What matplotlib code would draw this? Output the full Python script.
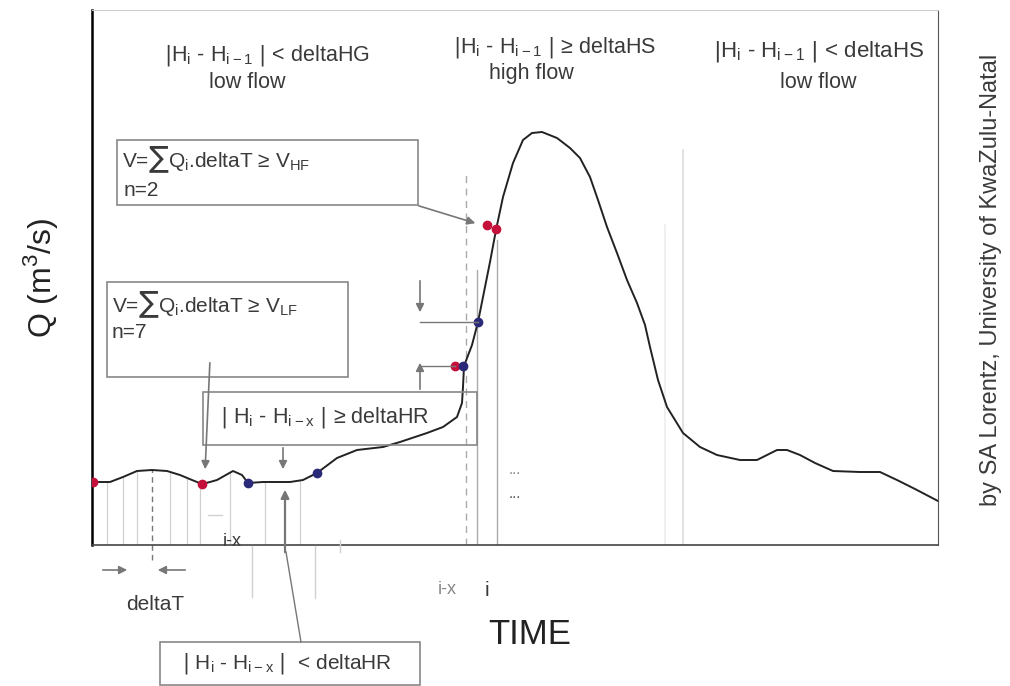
import matplotlib.pyplot as plt
import numpy as np

plt.rcParams["font.family"] = ["Liberation Sans", "DejaVu Sans"]

# hydrograph, arbitrary units (time 0-846, Q 0-535)
time = [1, 18, 31, 45, 60, 75, 88, 100, 110, 118, 125, 141, 150, 156, 171,
        198, 211, 225, 245, 265, 291, 308, 335, 351, 365, 370, 371, 372, 380,
        386, 393, 398, 404, 411, 421, 431, 440, 450, 465, 478, 488, 498, 506,
        515, 525, 535, 545, 553, 558, 566, 575, 591, 608, 625, 648, 665, 675,
        685, 695, 708, 723, 741, 768, 788, 805, 823, 846]
flow = [63, 63, 68, 74, 75, 74, 70, 65, 61, 63, 65, 74, 70, 62, 63,
        63, 65, 72, 87, 95, 98, 103, 112, 118, 128, 142, 158, 179, 200,
        223, 258, 283, 315, 348, 382, 405, 412, 413, 407, 397, 387, 368, 345,
        318, 292, 265, 242, 220, 198, 165, 138, 112, 98, 90, 85, 85, 90,
        95, 95, 90, 82, 74, 73, 73, 65, 56, 44]

red_t = [1, 110, 363, 395, 404]
red_q = [63, 61, 179, 320, 316]
blue_t = [156, 225, 371, 386]
blue_q = [62, 72, 179, 223]

step_t = [15, 31, 45, 78, 95, 108, 138, 173, 208]

W, H = 1010, 686
fig = plt.figure(figsize=(W / 100, H / 100), dpi=100)
ax = fig.add_axes([92 / W, (H - 545) / H, (938 - 92) / W, (545 - 10) / H])
ax.set_xlim(0, 846)
ax.set_ylim(0, 535)
ax.set_xticks([])
ax.set_yticks([])
ax.spines["left"].set_linewidth(1.8)
ax.spines["bottom"].set_linewidth(1.2)
ax.spines["bottom"].set_color("#444444")
ax.spines["top"].set_color("#cccccc")
ax.spines["right"].set_color("#555555")

light = "#d0d0d0"
grey = "#777777"
txt = "#3a3a3a"

# time-step lines under the curve
for t in step_t:
    ax.plot([t, t], [0, np.interp(t, time, flow)], color=light, lw=0.9)
ax.plot([60, 60], [-15, 75], color=grey, lw=1, ls=(0, (4, 3)), clip_on=False)

# lines around the rising limb
ax.plot([374, 374], [0, 375], color="#aaaaaa", lw=1, ls=(0, (5, 4)))
ax.plot([385, 385], [0, 275], color="#aaaaaa", lw=1)
ax.plot([405, 405], [0, 305], color="#aaaaaa", lw=1)
ax.plot([591, 591], [0, 395], color="#dddddd", lw=1.2)
ax.plot([573, 573], [0, 320], color="#eeeeee", lw=1.2)

ax.plot(time, flow, color="#222222", lw=1.4, zorder=3)
ax.plot(red_t, red_q, "o", color="#c4103a", ms=6, zorder=4)
ax.plot(blue_t, blue_q, "o", color="#2a2a78", ms=6, zorder=4)

# helpers in figure pixels
def P(x, y):
    return (x / W, 1 - y / H)

tf = fig.transFigure

def box(x0, y0, x1, y1):
    fig.add_artist(plt.Rectangle(P(x0, y1), (x1 - x0) / W, (y1 - y0) / H,
                                 transform=tf, fill=False, ec="#888888", lw=1.2))

def arrow(x0, y0, x1, y1, color=grey, lw=1.2):
    fig.add_artist(plt.Annotation("", xy=P(x1, y1), xytext=P(x0, y0),
                                  xycoords=tf, textcoords=tf,
                                  arrowprops=dict(arrowstyle="-|>", color=color,
                                                  lw=lw, mutation_scale=12)))

def line(xs, ys, color=grey, lw=1.0, ls="-"):
    fig.add_artist(plt.Line2D([x / W for x in xs], [1 - y / H for y in ys],
                              transform=tf, color=color, lw=lw, ls=ls))

# top labels
fig.text(*P(267, 55), r"$|$H$_\mathregular{i}$ - H$_\mathregular{i-1}$ $|$ < deltaHG",
         ha="center", va="center", fontsize=15.5, color=txt)
fig.text(*P(247, 83), "low flow", ha="center", va="center", fontsize=15.5, color=txt)
fig.text(*P(555, 48), r"$|$H$_\mathregular{i}$ - H$_\mathregular{i-1}$ $|$ ≥ deltaHS",
         ha="center", va="center", fontsize=15.5, color=txt)
fig.text(*P(531, 73), "high flow", ha="center", va="center", fontsize=15.5, color=txt)
fig.text(*P(818, 52), r"$|$H$_\mathregular{i}$ - H$_\mathregular{i-1}$ $|$ < deltaHS",
         ha="center", va="center", fontsize=16, color=txt)
fig.text(*P(818, 83), "low flow", ha="center", va="center", fontsize=15.5, color=txt)

# box n=2
box(117, 140, 418, 205)
fig.text(*P(122, 160), r"V=∑Q$_\mathregular{i}$.deltaT ≥ V$_\mathregular{HF}$",
         va="center", fontsize=15, color=txt)
fig.text(*P(124, 190), "n=2", va="center", fontsize=15, color=txt)
arrow(416, 205, 478, 224)

# box n=7
box(107, 282, 348, 377)
fig.text(*P(112, 305), r"V=∑Q$_\mathregular{i}$.deltaT ≥ V$_\mathregular{LF}$",
         va="center", fontsize=15, color=txt)
fig.text(*P(112, 333), "n=7", va="center", fontsize=15, color=txt)
arrow(210, 360, 205, 472)

# box >= deltaHR
box(203, 392, 477, 445)
fig.text(*P(220, 418), r"$|$ H$_\mathregular{i}$ - H$_\mathregular{i-x}$ $|$ ≥ deltaHR",
         va="center", fontsize=15.5, color=txt)
arrow(283, 445, 283, 472)

# box < deltaHR
box(160, 642, 420, 685)
fig.text(*P(182, 663), r"$|$ H$_\mathregular{i}$ - H$_\mathregular{i-x}$ $|$  < deltaHR",
         va="center", fontsize=15, color=txt)
line([301, 286], [642, 552])
arrow(285, 555, 285, 487, lw=1.6)

# rising-limb arrows
arrow(420, 278, 420, 315)
line([420, 478], [322, 322])
arrow(420, 392, 420, 360)
line([420, 455], [366, 366])

# deltaT arrows
arrow(100, 570, 130, 570)
arrow(188, 570, 155, 570)
fig.text(*P(155, 605), "deltaT", ha="center", va="center", fontsize=15, color=txt)

# lines below the axis
line([252, 252], [546, 597], color=light)
line([315, 315], [546, 598], color=light)
line([340, 340], [540, 552], color=light)
line([208, 222], [515, 515], color=light)
fig.text(*P(232, 541), "i-x", ha="center", va="center", fontsize=13, color=txt)
fig.text(*P(447, 590), "i-x", ha="center", va="center", fontsize=13, color="#888888")
fig.text(*P(487, 591), "i", ha="center", va="center", fontsize=15, color=txt)
fig.text(*P(515, 470), "...", ha="center", va="center", fontsize=11, color="#888888")
fig.text(*P(515, 494), "...", ha="center", va="center", fontsize=11, color="#555555")

fig.text(*P(530, 634), "TIME", ha="center", va="center", fontsize=25, color="#222222")
fig.text(*P(40, 278), "Q (m$^\mathregular{3}$/s)", ha="center", va="center",
         rotation=90, fontsize=23, color="#222222")
fig.text(*P(991, 280), "by SA Lorentz, University of KwaZulu-Natal", ha="center",
         va="center", rotation=90, fontsize=17, color=txt)

fig.savefig("out.png", dpi=100)
